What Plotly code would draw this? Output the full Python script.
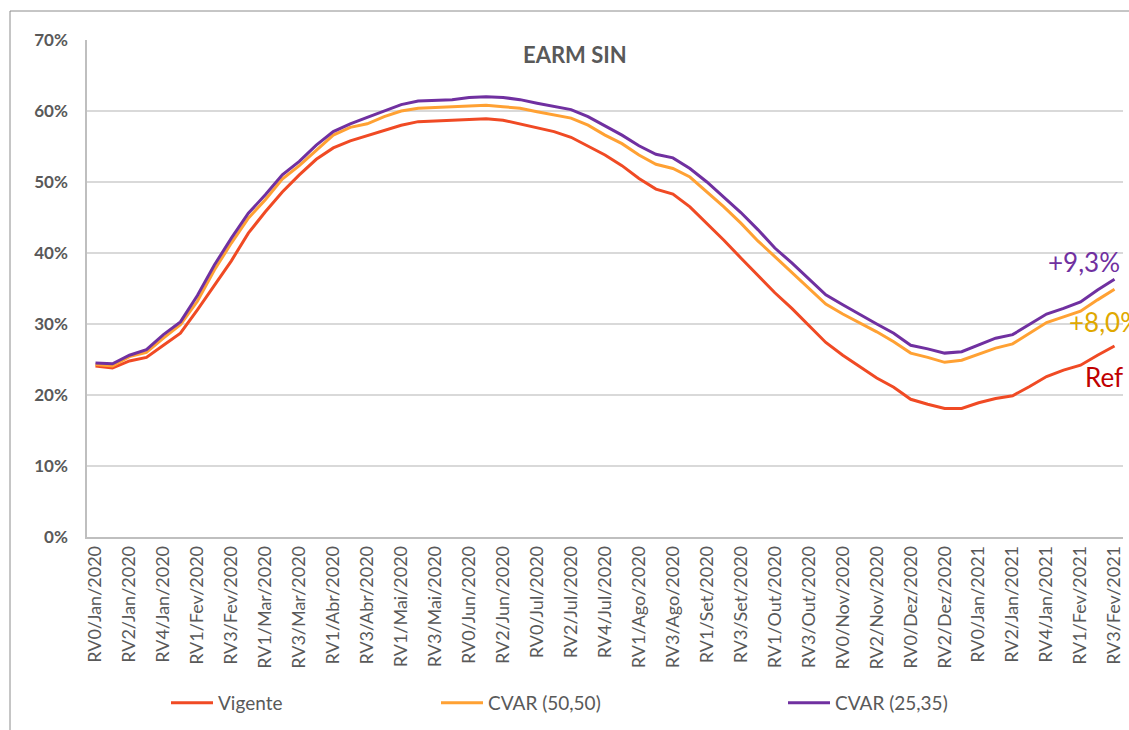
import plotly.graph_objects as go

categories = [
    "RV0/Jan/2020", "RV1/Jan/2020", "RV2/Jan/2020", "RV3/Jan/2020", "RV4/Jan/2020",
    "RV0/Fev/2020", "RV1/Fev/2020", "RV2/Fev/2020", "RV3/Fev/2020",
    "RV0/Mar/2020", "RV1/Mar/2020", "RV2/Mar/2020", "RV3/Mar/2020",
    "RV0/Abr/2020", "RV1/Abr/2020", "RV2/Abr/2020", "RV3/Abr/2020",
    "RV0/Mai/2020", "RV1/Mai/2020", "RV2/Mai/2020", "RV3/Mai/2020", "RV4/Mai/2020",
    "RV0/Jun/2020", "RV1/Jun/2020", "RV2/Jun/2020", "RV3/Jun/2020",
    "RV0/Jul/2020", "RV1/Jul/2020", "RV2/Jul/2020", "RV3/Jul/2020", "RV4/Jul/2020",
    "RV0/Ago/2020", "RV1/Ago/2020", "RV2/Ago/2020", "RV3/Ago/2020",
    "RV0/Set/2020", "RV1/Set/2020", "RV2/Set/2020", "RV3/Set/2020",
    "RV0/Out/2020", "RV1/Out/2020", "RV2/Out/2020", "RV3/Out/2020", "RV4/Out/2020",
    "RV0/Nov/2020", "RV1/Nov/2020", "RV2/Nov/2020", "RV3/Nov/2020",
    "RV0/Dez/2020", "RV1/Dez/2020", "RV2/Dez/2020", "RV3/Dez/2020",
    "RV0/Jan/2021", "RV1/Jan/2021", "RV2/Jan/2021", "RV3/Jan/2021", "RV4/Jan/2021",
    "RV0/Fev/2021", "RV1/Fev/2021", "RV2/Fev/2021", "RV3/Fev/2021",
]

tick_labels = categories[::2]

vigente = [
    24.1, 23.8, 24.8, 25.3, 27.0, 28.7, 32.0, 35.4, 38.9, 42.8,
    45.8, 48.6, 51.0, 53.2, 54.8, 55.8, 56.5, 57.3, 58.0, 58.5,
    58.6, 58.7, 58.9, 58.9, 58.7, 58.2, 57.7, 57.1, 56.3, 55.1,
    53.8, 52.3, 50.5, 49.0, 48.3, 46.5, 44.2, 41.8, 39.3, 36.9,
    34.4, 32.2, 29.8, 27.4, 25.6, 24.0, 22.4, 21.1, 19.4, 18.7,
    18.1, 18.1, 18.9, 19.5, 19.9, 21.2, 22.6, 23.5, 24.2, 25.6,
    26.9,
]

cvar_50_50 = [
    24.3, 24.1, 25.4, 26.0, 28.0, 29.9, 33.2, 37.6, 41.4, 44.9,
    47.5, 50.4, 52.3, 54.5, 56.6, 57.7, 58.2, 59.2, 60.0, 60.4,
    60.5, 60.6, 60.8, 60.8, 60.6, 60.4, 59.9, 59.4, 59.0, 58.0,
    56.6, 55.4, 53.8, 52.5, 51.9, 50.7, 48.6, 46.5, 44.2, 41.7,
    39.5, 37.3, 35.0, 32.8, 31.4, 30.2, 28.9, 27.5, 25.9, 25.3,
    24.6, 24.9, 25.8, 26.6, 27.2, 28.7, 30.2, 31.0, 31.8, 33.4,
    34.9,
]

cvar_25_35 = [
    24.5, 24.4, 25.6, 26.4, 28.5, 30.3, 34.0, 38.3, 42.1, 45.6,
    48.2, 51.0, 52.9, 55.2, 57.1, 58.2, 59.1, 60.0, 60.9, 61.4,
    61.5, 61.6, 61.9, 62.0, 61.9, 61.6, 61.1, 60.7, 60.2, 59.2,
    57.9, 56.6, 55.1, 53.9, 53.4, 51.9, 50.0, 47.9, 45.7, 43.3,
    40.7, 38.6, 36.3, 34.1, 32.7, 31.3, 30.0, 28.7, 27.0, 26.5,
    25.9, 26.1, 27.0, 28.0, 28.5, 29.9, 31.4, 32.2, 33.1, 34.8,
    36.3,
]

y_ticks = [0, 10, 20, 30, 40, 50, 60, 70]

FONT = "Lato"
GRAY = "#595959"

fig = go.Figure()
fig.add_trace(go.Scatter(x=categories, y=vigente, mode="lines", name="Vigente",
                         line=dict(color="#F04A24", width=3), legend="legend"))
fig.add_trace(go.Scatter(x=categories, y=cvar_50_50, mode="lines", name="CVAR (50,50)",
                         line=dict(color="#FFA133", width=3), legend="legend2"))
fig.add_trace(go.Scatter(x=categories, y=cvar_25_35, mode="lines", name="CVAR (25,35)",
                         line=dict(color="#7030A0", width=3), legend="legend3"))

W, H = 1129, 730
ml, mr, mt, mb = 87, 6, 40, 193
pw, ph = W - ml - mr, H - mt - mb


def px_x(px):
    return (px - ml) / pw


def px_y(py):
    return (H - mb - py) / ph


leg_common = dict(orientation="h", yanchor="middle", xanchor="left",
                  font=dict(family=FONT, size=19, color=GRAY),
                  bgcolor="rgba(0,0,0,0)", itemwidth=42)

fig.update_layout(
    width=W, height=H,
    margin=dict(l=ml, r=mr, t=mt, b=mb),
    paper_bgcolor="white", plot_bgcolor="white",
    font=dict(family=FONT, color=GRAY),
    showlegend=True,
    legend=dict(x=px_x(166), y=px_y(703), **leg_common),
    legend2=dict(x=px_x(436), y=px_y(703), **leg_common),
    legend3=dict(x=px_x(783), y=px_y(703), **leg_common),
    xaxis=dict(
        type="category", range=[-0.5, len(categories) - 0.5],
        tickmode="array", tickvals=tick_labels, ticktext=tick_labels,
        tickangle=-90, tickfont=dict(family=FONT, size=18, color=GRAY),
        showline=True, linecolor="#BFBFBF", linewidth=1.5,
        showgrid=False, ticks="", zeroline=False,
    ),
    yaxis=dict(
        range=[0, 70], tickmode="array", tickvals=y_ticks,
        ticktext=[f"<b>{v}%</b>" for v in y_ticks],
        tickfont=dict(family=FONT, size=17, color=GRAY),
        showline=True, linecolor="#BFBFBF", linewidth=1.5,
        showgrid=True, gridcolor="#D9D9D9", gridwidth=1.5,
        zeroline=False, ticks="", ticklabelstandoff=14,
    ),
    annotations=[
        dict(text="<b>EARM SIN</b>", xref="paper", yref="paper", x=px_x(575), y=px_y(55),
             xanchor="center", yanchor="middle", showarrow=False,
             font=dict(family=FONT, size=22, color=GRAY)),
        dict(text="+9,3%", xref="paper", yref="paper", x=px_x(1046), y=px_y(262),
             xanchor="left", yanchor="middle", showarrow=False,
             font=dict(family=FONT, size=26, color="#7030A0")),
        dict(text="+8,0%", xref="paper", yref="paper", x=px_x(1067), y=px_y(322),
             xanchor="left", yanchor="middle", showarrow=False,
             font=dict(family=FONT, size=26, color="#E0A800")),
        dict(text="Ref", xref="paper", yref="paper", x=px_x(1083), y=px_y(377),
             xanchor="left", yanchor="middle", showarrow=False,
             font=dict(family=FONT, size=26, color="#C00000")),
    ],
    shapes=[
        dict(type="rect", xref="paper", yref="paper",
             x0=px_x(10), y0=px_y(760), x1=px_x(1160), y1=px_y(11),
             line=dict(color="#8C8C8C", width=1), fillcolor="rgba(0,0,0,0)", layer="below"),
    ],
)

fig.write_html(
    "out.html",
    config={"displayModeBar": False},
    post_script="document.body.style.margin='0';document.body.style.overflow='hidden';",
)
